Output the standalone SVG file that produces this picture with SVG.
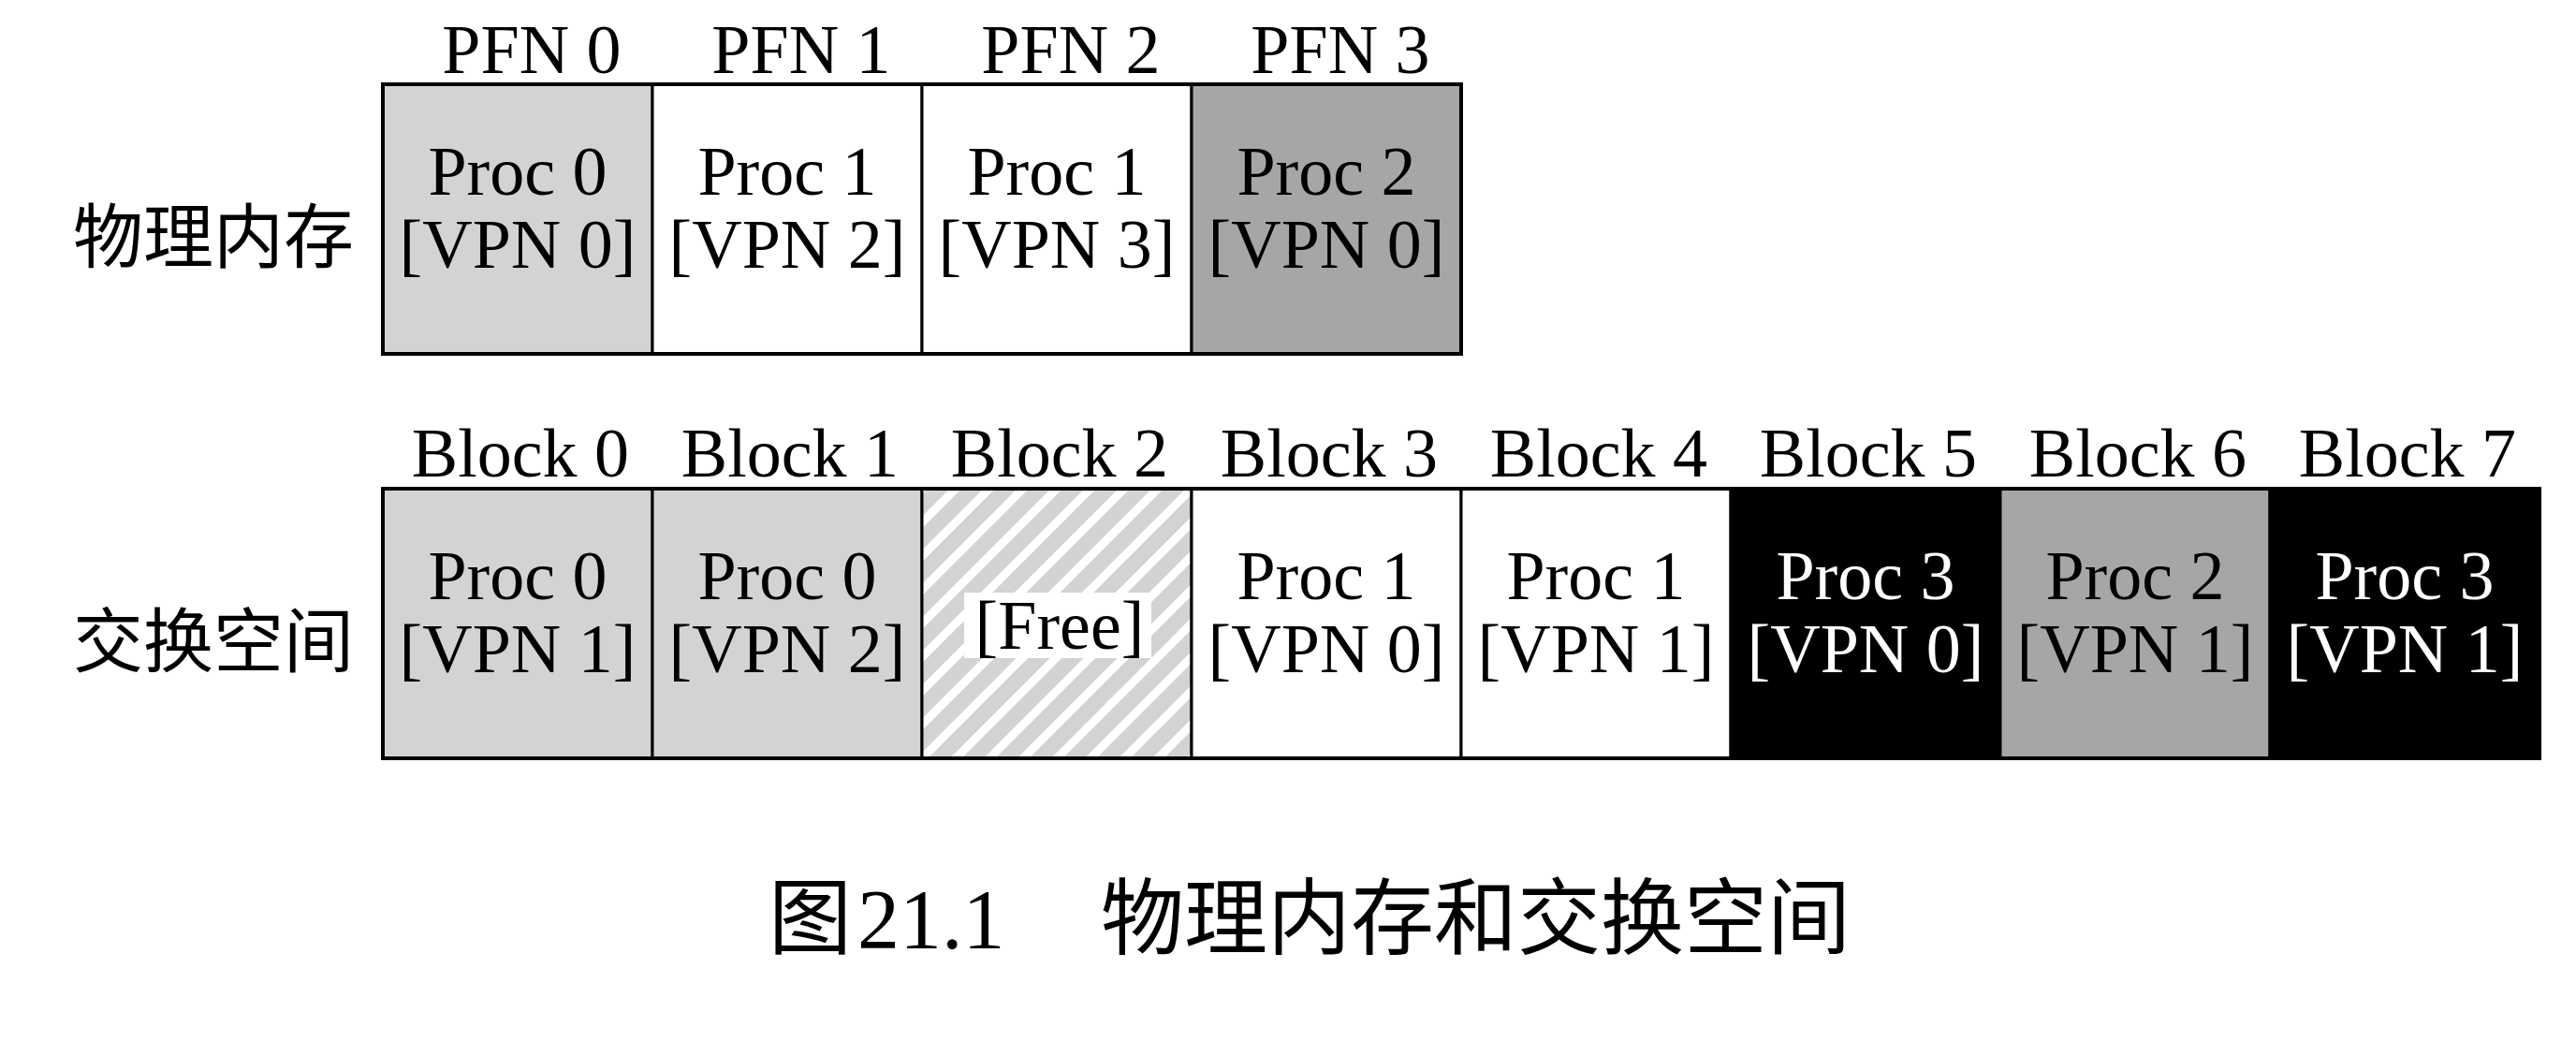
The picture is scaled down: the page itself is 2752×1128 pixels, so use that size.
<svg xmlns="http://www.w3.org/2000/svg" width="2752" height="1128" viewBox="0 0 2752 1128">
<style>
.t{font-family:"Liberation Serif","Times New Roman",serif;font-size:74px;text-anchor:middle;fill:#000}
.w{fill:#fff}
.zh{font-family:"Noto Sans CJK SC","Noto Sans",sans-serif;font-size:75px;fill:#000}
.cap{font-family:"Liberation Serif","Times New Roman",serif;font-size:90px;fill:#000}
.capzh{font-family:"Noto Sans CJK SC",sans-serif;font-size:89px;fill:#000}
.cell{stroke:#000;stroke-width:3}
.lg{fill:#d3d3d3}.dg{fill:#a6a6a6}.bk{fill:#000}.wh{fill:#fff}
</style>
<defs>
<pattern id="hatch" patternUnits="userSpaceOnUse" width="36" height="36" patternTransform="translate(985 522)">
<rect width="36" height="36" fill="#d3d3d3"/>
<path d="M-9,9 L9,-9 M-9,45 L45,-9 M27,45 L45,27" stroke="#fff" stroke-width="9"/>
</pattern>
</defs>
<g id="label-phys"><text class="zh" x="78" y="280">物理内存</text></g>
<g id="label-swap"><text class="zh" x="78" y="712">交换空间</text></g>
<g id="pfn-headers">
<text class="t" x="568" y="78">PFN 0</text>
<text class="t" x="856" y="78">PFN 1</text>
<text class="t" x="1144" y="78">PFN 2</text>
<text class="t" x="1432" y="78">PFN 3</text>
</g>
<g id="pfn0"><rect class="cell lg" x="409" y="90" width="288" height="288"/><text class="t" x="553" y="208">Proc 0</text><text class="t" x="553" y="286">[VPN 0]</text></g>
<g id="pfn1"><rect class="cell wh" x="697" y="90" width="288" height="288"/><text class="t" x="841" y="208">Proc 1</text><text class="t" x="841" y="286">[VPN 2]</text></g>
<g id="pfn2"><rect class="cell wh" x="985" y="90" width="288" height="288"/><text class="t" x="1129" y="208">Proc 1</text><text class="t" x="1129" y="286">[VPN 3]</text></g>
<g id="pfn3"><rect class="cell dg" x="1273" y="90" width="288" height="288"/><text class="t" x="1417" y="208">Proc 2</text><text class="t" x="1417" y="286">[VPN 0]</text></g>
<rect x="409" y="90" width="1152" height="288" fill="none" stroke="#000" stroke-width="4"/>
<g id="block-headers">
<text class="t" x="556" y="509">Block 0</text>
<text class="t" x="844" y="509">Block 1</text>
<text class="t" x="1132" y="509">Block 2</text>
<text class="t" x="1420" y="509">Block 3</text>
<text class="t" x="1708" y="509">Block 4</text>
<text class="t" x="1996" y="509">Block 5</text>
<text class="t" x="2284" y="509">Block 6</text>
<text class="t" x="2572" y="509">Block 7</text>
</g>
<g id="block0"><rect class="cell lg" x="409" y="522" width="288" height="288"/><text class="t" x="553" y="640">Proc 0</text><text class="t" x="553" y="718">[VPN 1]</text></g>
<g id="block1"><rect class="cell lg" x="697" y="522" width="288" height="288"/><text class="t" x="841" y="640">Proc 0</text><text class="t" x="841" y="718">[VPN 2]</text></g>
<g id="block2"><rect class="cell" x="985" y="522" width="288" height="288" fill="url(#hatch)"/><rect x="1030" y="633" width="200" height="70" fill="#fff"/><text class="t" x="1132" y="693">[Free]</text></g>
<g id="block3"><rect class="cell wh" x="1273" y="522" width="288" height="288"/><text class="t" x="1417" y="640">Proc 1</text><text class="t" x="1417" y="718">[VPN 0]</text></g>
<g id="block4"><rect class="cell wh" x="1561" y="522" width="288" height="288"/><text class="t" x="1705" y="640">Proc 1</text><text class="t" x="1705" y="718">[VPN 1]</text></g>
<g id="block5"><rect class="cell bk" x="1849" y="522" width="288" height="288"/><text class="t w" x="1993" y="640">Proc 3</text><text class="t w" x="1993" y="718">[VPN 0]</text></g>
<g id="block6"><rect class="cell dg" x="2137" y="522" width="288" height="288"/><text class="t" x="2281" y="640">Proc 2</text><text class="t" x="2281" y="718">[VPN 1]</text></g>
<g id="block7"><rect class="cell bk" x="2425" y="522" width="288" height="288"/><text class="t w" x="2569" y="640">Proc 3</text><text class="t w" x="2569" y="718">[VPN 1]</text></g>
<rect x="409" y="522" width="2304" height="288" fill="none" stroke="#000" stroke-width="4"/>
<g id="connectors"></g>
<g id="caption">
<text class="capzh" x="821" y="1012">图</text>
<text class="cap" x="916" y="1013">21.1</text>
<text class="capzh" x="1176" y="1012">物理内存和交换空间</text>
</g>
</svg>
